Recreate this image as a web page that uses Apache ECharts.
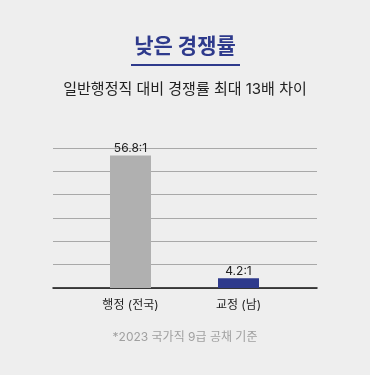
<!DOCTYPE html>
<html><head><meta charset="utf-8">
<script src="https://cdn.jsdelivr.net/npm/echarts@6/dist/echarts.min.js"></script>
<style>html,body{margin:0;padding:0;background:#eeeeee;}#c{width:370px;height:375px;}</style>
</head><body><div id="c"></div>
<script>
const titleText = '낮은 경쟁률';
const subtitleText = '일반행정직 대비 경쟁률 최대 13배 차이';
const footnoteText = '*2023 국가직 9급 공채 기준';
const categories = ['행정 (전국)', '교정 (남)'];
const values = [56.8, 4.2];
const valueLabels = ['56.8:1', '4.2:1'];
const barColors = ['#b0b0b0', '#2e3a8c'];
const yMin = 0, yMax = 60, yInterval = 10;

const font = 'Inter, "Noto Sans CJK KR", "Noto Sans", sans-serif';
const chart = echarts.init(document.getElementById('c'), null, {renderer: 'canvas'});
chart.setOption({
  backgroundColor: '#eeeeee',
  animation: false,
  graphic: [
    {type: 'text', left: 'center', top: 36, style: {text: titleText, font: 'bold 21px ' + font, fill: '#2e3a8c'}},
    {type: 'rect', shape: {x: 131, y: 64, width: 109, height: 2}, style: {fill: '#2e3a8c'}},
    {type: 'text', left: 'center', top: 82, style: {text: subtitleText, font: '15px ' + font, fill: '#222222'}},
    {type: 'text', left: 'center', top: 331, style: {text: footnoteText, font: '12px ' + font, fill: '#a0a0a0'}}
  ],
  grid: [
    {left: 53, right: 53, top: 148, bottom: 87},
    {left: 76.5, right: 77.5, top: 148, bottom: 87}
  ],
  xAxis: [
    {gridIndex: 0, type: 'category', data: [''], axisLine: {lineStyle: {color: '#111', width: 1.5}}, axisTick: {show: false}, axisLabel: {show: false}},
    {gridIndex: 1, type: 'category', data: categories, axisLine: {show: false}, axisTick: {show: false},
     axisLabel: {margin: 11, fontSize: 12, color: '#222', fontFamily: font}}
  ],
  yAxis: [
    {gridIndex: 0, type: 'value', min: yMin, max: yMax, interval: yInterval, axisLabel: {show: false}, axisLine: {show: false}, axisTick: {show: false},
     splitLine: {lineStyle: {color: '#a8a8a8', width: 1}}},
    {gridIndex: 1, type: 'value', min: yMin, max: yMax, interval: yInterval, show: false, splitLine: {show: false}}
  ],
  series: [{
    type: 'bar', xAxisIndex: 1, yAxisIndex: 1, barWidth: 41,
    data: values.map((v, i) => ({value: v, itemStyle: {color: barColors[i]}})),
    label: {show: true, position: 'top', distance: 1, fontSize: 12, color: '#222', fontFamily: font,
      formatter: p => valueLabels[p.dataIndex]}
  }]
});
</script></body></html>
